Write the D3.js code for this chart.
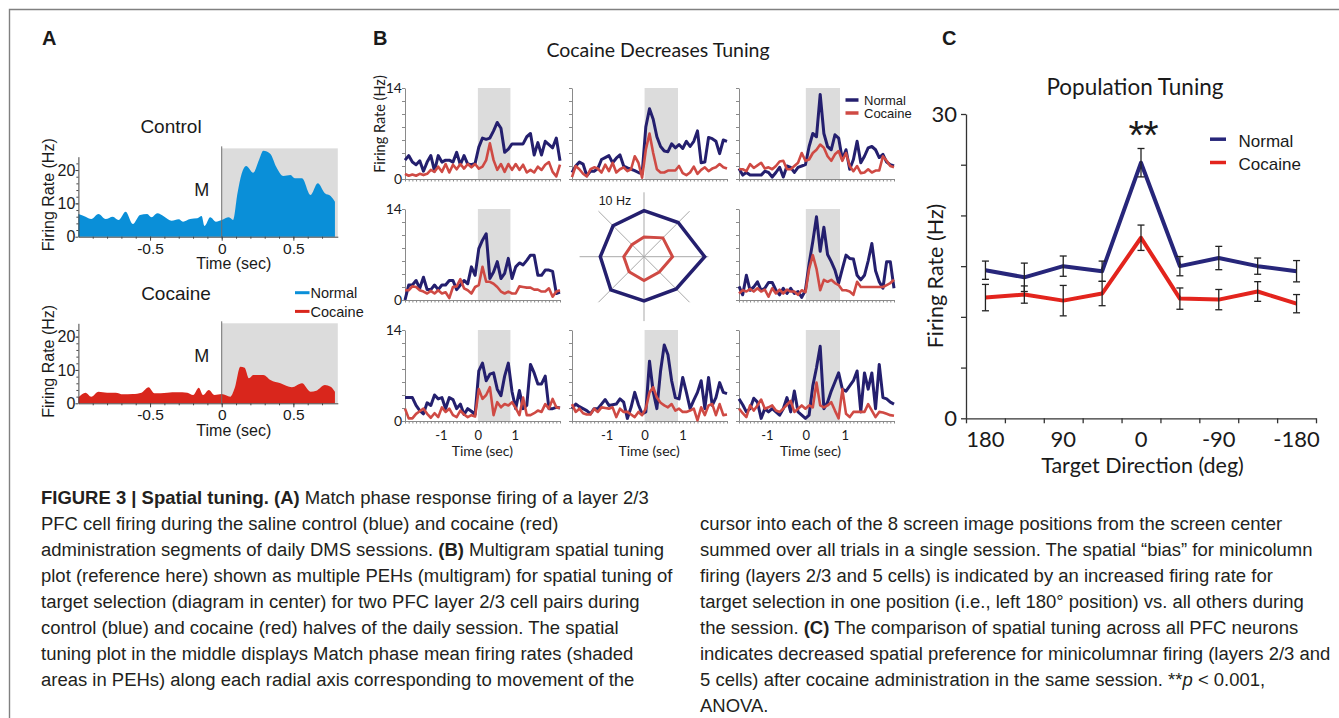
<!DOCTYPE html>
<meta charset="utf-8">
<style>
  body { margin: 0; background: #fff; }
  svg { display: block; }
  text { white-space: pre; }
</style>
<body>
<script src="https://cdn.jsdelivr.net/npm/d3@7"></script>
<script>

// ---------- data ----------

// Panel A: single cell PEH, time (sec) and firing rate (Hz)
var controlTime = [-1.00,-0.95,-0.91,-0.86,-0.81,-0.76,-0.72,-0.67,-0.62,-0.57,-0.52,-0.49,-0.45,-0.40,-0.35,-0.30,-0.27,-0.22,-0.17,-0.14,-0.12,-0.08,-0.04,0,0.05,0.08,0.11,0.14,0.17,0.22,0.26,0.29,0.34,0.38,0.43,0.48,0.51,0.56,0.62,0.67,0.72,0.76,0.79];
var controlHz = [6.8,6.0,5.3,6.8,5.3,6.0,5.0,7.5,3.8,6.5,6.8,5.8,7.0,6.0,4.8,5.2,4.5,5.3,5.5,6.2,3.2,5.8,4.5,5.0,5.8,5.0,13.0,19.0,21.2,19.2,23.0,25.8,24.8,21.0,18.2,18.5,17.5,17.5,12.5,16.0,13.0,12.2,10.5];
var cocaineTime = [-1.00,-0.95,-0.91,-0.86,-0.80,-0.74,-0.69,-0.62,-0.56,-0.51,-0.47,-0.38,-0.31,-0.24,-0.20,-0.16,-0.13,-0.09,-0.05,0,0.06,0.09,0.13,0.16,0.19,0.22,0.29,0.34,0.41,0.49,0.56,0.62,0.66,0.72,0.76,0.79];
var cocaineHz = [1.8,3.2,2.0,3.5,3.2,3.2,2.7,2.8,3.2,4.8,3.0,3.2,3.3,3.2,2.5,4.7,2.5,4.0,2.5,2.8,2.0,4.5,11.0,10.7,7.5,8.5,8.5,7.0,6.0,4.8,6.0,3.5,3.8,5.5,5.0,3.5];

// Panel B: eight PEHs (43 bins each), Hz
var pehNormal_r1c1 = [2.9,3.6,2.6,2.2,2.8,1.2,2.6,3.6,1.2,3.6,2.6,2.9,2.9,2.6,4.1,2.2,3.6,2.3,2.2,2.4,4.9,6.3,6.1,6.3,7.4,8.7,7.8,4.1,4.6,5.4,5.4,5.4,5.4,6.5,7.0,3.7,5.6,3.7,5.8,5.3,4.8,6.3,2.8];
var pehCocaine_r1c1 = [0.8,0.5,0.7,0.5,0.8,0.6,0.8,1.4,1.1,1.9,1.1,2.3,1.0,2.2,1.5,2.3,1.6,2.3,1.8,2.3,1.6,1.9,2.9,5.5,2.9,1.4,2.3,1.1,2.3,1.4,2.3,1.4,2.2,1.0,1.4,1.0,1.9,1.4,2.2,2.6,1.1,0.4,2.2];
var pehNormal_r1c2 = [1.0,2.0,2.6,2.3,0.5,1.2,1.2,1.6,3.0,3.3,3.6,2.5,3.2,3.7,2.0,1.7,1.5,1.3,1.0,0.8,8.0,10.8,9.2,6.5,5.0,4.3,4.2,5.4,4.8,5.3,4.7,5.8,5.0,5.8,7.4,2.5,2.6,6.4,6.2,5.8,3.9,6.0,5.8];
var pehCocaine_r1c2 = [0.3,2.0,1.5,0.8,0.4,1.5,1.8,1.6,1.0,2.2,1.2,2.5,1.0,1.5,1.8,1.2,1.5,3.5,2.5,0.2,4.5,7.0,4.0,1.5,1.0,1.0,1.3,1.3,1.3,2.0,0.9,0.6,1.0,1.9,0.8,1.4,1.8,1.2,1.6,1.8,2.3,1.8,1.6];
var pehNormal_r1c3 = [1.6,0.6,1.0,0.6,0.6,0.6,0.6,1.2,1.0,0.3,1.0,1.8,0.3,2.0,1.8,1.0,1.8,2.0,2.2,5.0,7.0,6.5,13.0,7.0,5.0,4.5,6.8,6.3,3.0,4.5,1.5,3.0,5.8,2.5,3.5,4.8,5.0,4.5,3.3,3.8,2.6,2.2,2.0];
var pehCocaine_r1c3 = [1.5,1.5,1.2,2.3,1.7,2.1,2.5,1.6,1.8,1.5,2.0,2.7,2.8,1.5,1.5,2.0,2.5,4.0,2.8,3.0,4.0,4.5,5.3,4.8,3.5,2.8,3.8,4.3,2.8,4.0,2.0,1.2,2.0,0.9,1.0,1.5,1.0,1.3,1.3,3.5,2.8,2.0,1.8];
var pehNormal_r2c1 = [0.0,2.3,2.3,3.0,1.8,3.5,1.6,1.6,2.3,1.6,2.3,2.3,3.0,3.0,1.6,2.3,3.0,2.5,5.1,3.8,7.9,9.2,10.2,3.3,4.3,5.9,3.3,4.1,6.4,3.3,5.1,5.7,5.4,6.1,6.9,6.9,3.8,3.8,4.6,4.6,4.4,1.0,1.2];
var pehCocaine_r2c1 = [1.5,1.5,2.1,2.0,1.5,1.3,1.0,1.4,1.0,1.5,1.0,1.2,0.3,2.0,2.1,3.2,1.8,1.5,1.0,2.0,2.3,5.1,2.8,2.8,2.5,2.0,1.3,1.0,1.3,1.0,1.0,2.1,2.0,1.9,1.9,1.6,1.6,1.3,1.3,1.8,0.5,1.3,1.5];
var pehNormal_r2c3 = [2.1,0.8,3.8,1.5,2.0,2.8,1.5,1.8,2.7,2.7,1.5,0.8,1.8,1.0,1.8,1.0,1.3,0.4,1.5,5.6,9.0,12.8,7.5,11.2,7.0,5.9,4.6,2.6,4.8,6.9,6.4,6.3,3.8,3.1,3.8,6.0,8.7,4.5,2.8,1.8,5.9,5.9,1.8];
var pehCocaine_r2c3 = [1.0,1.5,1.3,1.7,1.3,1.8,1.3,1.6,0.5,1.8,1.0,1.6,1.0,1.6,1.3,1.3,0.8,1.5,1.2,4.8,6.9,4.8,1.5,3.1,2.8,3.1,2.6,2.3,1.5,1.5,1.3,0.8,2.8,2.0,2.0,2.0,2.0,2.0,2.0,2.0,2.3,2.6,3.1];
var pehNormal_r3c1 = [3.6,3.6,3.6,2.4,1.6,1.1,2.8,2.4,4.0,3.4,3.6,1.9,3.6,3.3,1.9,2.6,1.0,1.9,1.5,1.0,7.7,8.9,6.2,7.2,7.4,4.9,3.9,6.9,8.9,4.5,1.9,4.7,1.9,2.4,8.7,7.4,5.7,5.7,6.9,1.9,1.9,2.1,2.0];
var pehCocaine_r3c1 = [1.9,0.4,0.4,1.1,1.5,1.9,1.1,0.5,1.2,0.6,2.1,1.4,1.9,0.9,0.6,1.6,1.0,0.6,0.9,0.7,4.9,3.4,4.0,5.2,0.9,2.9,2.1,2.6,2.4,2.9,2.0,0.9,3.6,0.9,0.9,1.2,1.6,1.4,2.6,1.9,3.4,2.1,2.0];
var pehNormal_r3c2 = [1.9,2.6,2.2,1.9,1.6,1.1,1.9,1.9,2.6,3.3,2.4,2.5,2.6,3.4,2.9,0.4,2.1,4.4,2.5,1.1,1.4,9.2,4.5,1.9,7.7,11.7,10.2,6.2,3.6,3.4,6.7,4.4,1.9,3.2,4.4,6.2,1.9,6.7,2.4,3.6,5.9,4.4,4.2];
var pehCocaine_r3c2 = [2.6,1.4,1.9,1.2,1.0,1.0,1.9,1.4,2.1,2.0,1.9,2.1,0.6,1.9,1.4,1.4,1.0,0.6,1.4,0.9,1.9,4.4,5.2,3.6,2.8,2.4,2.1,2.6,1.6,1.9,1.4,1.4,1.6,1.9,0.1,2.1,0.9,2.4,2.6,0.9,2.6,0.9,1.0];
var pehNormal_r3c3 = [3.4,2.5,1.4,1.9,3.5,2.9,0.4,1.9,1.4,1.9,1.4,0.9,1.9,3.6,1.4,4.6,1.4,0.9,0.4,0.9,5.4,8.2,11.5,1.9,2.9,4.6,6.0,7.4,4.9,4.6,5.4,6.2,7.7,1.4,7.4,4.9,7.4,1.9,8.7,3.6,3.4,2.9,2.6];
var pehCocaine_r3c3 = [1.9,1.2,0.6,2.4,1.6,2.4,3.3,1.9,2.1,2.4,1.6,1.4,1.9,2.5,3.1,1.4,1.9,2.4,1.9,2.4,2.1,5.9,2.4,2.1,2.4,2.9,1.6,0.4,4.9,1.1,0.6,1.4,1.4,1.4,1.4,2.6,1.6,0.6,1.4,1.3,1.1,0.9,0.8];

// Panel B centre: tuning diagram, direction (deg, counter-clockwise from right) and Hz
var polarAngles = [0, 45, 90, 135, 180, 225, 270, 315];
var polarNormal = [13.2, 10.5, 10.0, 9.5, 9.5, 10.2, 9.6, 9.9];
var polarCocaine = [6.2, 5.8, 4.3, 3.7, 4.4, 4.6, 5.2, 4.7];

// Panel C: population tuning
var directions = ['180', '135', '90', '45', '0', '-45', '-90', '-135', '-180'];
var directionLabels = ['180', '90', '0', '-90', '-180'];
var popNormal = [14.6, 13.9, 15.0, 14.5, 25.2, 15.0, 15.8, 15.0, 14.5];
var popNormalErr = [0.9, 1.4, 1.0, 1.0, 1.4, 0.95, 1.15, 0.8, 1.05];
var popCocaine = [11.9, 12.2, 11.6, 12.3, 17.8, 11.8, 11.7, 12.5, 11.3];
var popCocaineErr = [1.3, 0.85, 1.5, 1.2, 1.25, 1.05, 1.0, 0.97, 0.9];

// ---------- drawing ----------

var ARIAL = '"Liberation Sans", Arial, sans-serif';
var LATO = 'Lato, "Open Sans", sans-serif';
var NAVY_B = '#241f6e', RED_B = '#cf4a44';
var NAVY_C = '#27267a', RED_C = '#e3241d';

var svg = d3.select('body').append('svg').attr('width', 1339).attr('height', 718);

// figure box rules
svg.append('path').attr('d', 'M9.5,718V9.5H1339')
  .attr('fill', 'none').attr('stroke', '#808080').attr('stroke-width', 1.4);

function txt(g, x, y, s, size, o) {
  o = o || {};
  var t = g.append('text').attr('x', x).attr('y', y).text(s)
    .style('font-size', size + 'px')
    .style('font-family', o.family || ARIAL)
    .attr('text-anchor', o.anchor || 'start')
    .attr('fill', o.fill || '#1a1a1a');
  if (o.weight) t.style('font-weight', o.weight);
  if (o.rotate) t.attr('transform', 'rotate(-90,' + x + ',' + y + ')');
  return t;
}

function styleAxis(sel, family, size, stroke, width) {
  sel.attr('font-family', null).attr('font-size', null);
  sel.selectAll('text').style('font-family', family).style('font-size', size + 'px').attr('fill', '#1a1a1a');
  sel.selectAll('path,line').attr('stroke', stroke).attr('stroke-width', width);
}

// panel letters
txt(svg, 42, 45, 'A', 20, { weight: 'bold' });
txt(svg, 373, 45, 'B', 20, { weight: 'bold' });
txt(svg, 942, 45, 'C', 20, { weight: 'bold' });

// ===== Panel A =====
var xA = d3.scaleLinear().domain([-1, 0.81]).range([78.4, 337.8]);
var aCharts = [
  { time: controlTime, hz: controlHz, color: '#0a8fd8', y0: 236.7, boxTop: 26.5, title: 'Control', tx: 171 },
  { time: cocaineTime, hz: cocaineHz, color: '#d9261c', y0: 403.3, boxTop: 24, title: 'Cocaine', tx: 176 }
];

aCharts.forEach(function (c) {
  var g = svg.append('g');
  var y = d3.scaleLinear().domain([0, 24]).range([c.y0, c.y0 - 80]);

  g.append('rect')
    .attr('x', xA(0)).attr('width', xA(0.81) - xA(0))
    .attr('y', y(c.boxTop)).attr('height', y(0) - y(c.boxTop))
    .attr('fill', '#dcdcdc');

  var pts = c.time.map(function (t, i) { return [t, c.hz[i]]; });
  var area = d3.area()
    .x(function (d) { return xA(d[0]); })
    .y0(y(0))
    .y1(function (d) { return y(d[1]); })
    .curve(d3.curveMonotoneX);
  g.append('path').datum(pts).attr('d', area).attr('fill', c.color);

  g.append('line')
    .attr('x1', xA(0)).attr('x2', xA(0))
    .attr('y1', y(c.boxTop) - 2).attr('y2', y(0))
    .attr('stroke', '#6f6f6f').attr('stroke-width', 1);

  // axes
  var xm = g.append('g').attr('transform', 'translate(0,' + y(0) + ')')
    .call(d3.axisBottom(xA).tickValues(d3.range(-0.9, 0.8, 0.1)).tickSize(2).tickSizeOuter(0).tickFormat(''));
  xm.select('.domain').remove();
  styleAxis(xm, ARIAL, 15.5, '#444', 1);
  var xa = g.append('g').attr('transform', 'translate(0,' + y(0) + ')')
    .call(d3.axisBottom(xA).tickValues([-0.5, 0, 0.5]).tickSize(4).tickSizeOuter(0).tickPadding(2)
      .tickFormat(function (d) { return String(d); }));
  styleAxis(xa, ARIAL, 15.5, '#444', 1);

  var ym = g.append('g').attr('transform', 'translate(' + xA(-1) + ',0)')
    .call(d3.axisLeft(y).tickValues(d3.range(2, 24, 2)).tickSize(2).tickFormat(''));
  ym.select('.domain').remove();
  styleAxis(ym, ARIAL, 16, '#444', 1);
  var ya = g.append('g').attr('transform', 'translate(' + xA(-1) + ',0)')
    .call(d3.axisLeft(y).tickValues([0, 10, 20]).tickSize(3).tickSizeOuter(0).tickPadding(0));
  styleAxis(ya, ARIAL, 16, '#444', 1);

  txt(g, c.tx, c.y0 - 103.5, c.title, 19, { anchor: 'middle' });
  txt(g, 201.7, c.y0 - 41, 'M', 18, { anchor: 'middle' });
  txt(g, 233.8, c.y0 + 32.7, 'Time (sec)', 16, { anchor: 'middle' });
  txt(g, 54, c.y0 - 42, 'Firing Rate (Hz)', 16, { anchor: 'middle', rotate: true });
});

// legend of panel A
var legA = svg.append('g');
[['Normal', '#0a8fd8', 298], ['Cocaine', '#d9261c', 316.7]].forEach(function (d) {
  legA.append('line').attr('x1', 295).attr('x2', 309.5).attr('y1', d[2] - 5.3).attr('y2', d[2] - 5.3)
    .attr('stroke', d[1]).attr('stroke-width', 3);
  txt(legA, 310.5, d[2], d[0], 14.5);
});

// ===== Panel B =====
var bColX = [405, 572, 739];
var bRowY = [179, 300, 421];
var bW = 155, bH = 91;
var bTimeDomain = [[-1.97, 2.22], [-1.91, 2.17], [-1.72, 2.27]];
var stimWindow = [0, 0.88];

var pehPanels = [
  { row: 0, col: 0, normal: pehNormal_r1c1, cocaine: pehCocaine_r1c1 },
  { row: 0, col: 1, normal: pehNormal_r1c2, cocaine: pehCocaine_r1c2 },
  { row: 0, col: 2, normal: pehNormal_r1c3, cocaine: pehCocaine_r1c3 },
  { row: 1, col: 0, normal: pehNormal_r2c1, cocaine: pehCocaine_r2c1 },
  { row: 1, col: 2, normal: pehNormal_r2c3, cocaine: pehCocaine_r2c3 },
  { row: 2, col: 0, normal: pehNormal_r3c1, cocaine: pehCocaine_r3c1 },
  { row: 2, col: 1, normal: pehNormal_r3c2, cocaine: pehCocaine_r3c2 },
  { row: 2, col: 2, normal: pehNormal_r3c3, cocaine: pehCocaine_r3c3 }
];

pehPanels.forEach(function (p) {
  var x0 = bColX[p.col], y0 = bRowY[p.row];
  var g = svg.append('g');
  var t = d3.scaleLinear().domain(bTimeDomain[p.col]).range([x0, x0 + bW]);
  var xi = d3.scaleLinear().domain([0, p.normal.length - 1]).range([x0, x0 + bW]);
  var y = d3.scaleLinear().domain([0, 14]).range([y0, y0 - bH]);

  g.append('rect')
    .attr('x', t(stimWindow[0])).attr('width', t(stimWindow[1]) - t(stimWindow[0]))
    .attr('y', y(14)).attr('height', y(0) - y(14))
    .attr('fill', '#dcdcdc');

  var ya = g.append('g').attr('transform', 'translate(' + x0 + ',0)')
    .call(d3.axisLeft(y).tickValues(d3.range(0, 15, 2)).tickSize(3).tickSizeOuter(0).tickPadding(0)
      .tickFormat(function (d) { return p.col === 0 && (d === 0 || d === 14) ? d : ''; }));
  styleAxis(ya, LATO, 14, '#8a8a8a', 1);

  var xa = g.append('g').attr('transform', 'translate(0,' + y0 + ')')
    .call(d3.axisBottom(xi).tickValues(d3.range(p.normal.length)).tickSize(2.5).tickSizeOuter(0).tickFormat(''));
  styleAxis(xa, LATO, 14, '#8a8a8a', 1);

  if (p.row === 2) {
    var xl = g.append('g').attr('transform', 'translate(0,' + y0 + ')')
      .call(d3.axisBottom(t).tickValues([-1, 0, 1]).tickSize(0).tickPadding(9.5)
        .tickFormat(function (d) { return String(d); }));
    xl.select('.domain').remove();
    styleAxis(xl, LATO, 13, '#8a8a8a', 1);
    txt(g, t(0.12), y0 + 35, 'Time (sec)', 14, { anchor: 'middle', family: LATO });
  }

  var line = d3.line()
    .x(function (d, i) { return xi(i); })
    .y(function (d) { return y(d); })
    .curve(d3.curveLinear);
  g.append('path').datum(p.normal).attr('d', line).attr('fill', 'none')
    .attr('stroke', NAVY_B).attr('stroke-width', 3).attr('stroke-linejoin', 'round');
  g.append('path').datum(p.cocaine).attr('d', line).attr('fill', 'none')
    .attr('stroke', RED_B).attr('stroke-width', 2.6).attr('stroke-linejoin', 'round');
});

txt(svg, 658, 57, 'Cocaine Decreases Tuning', 19.5, { anchor: 'middle', family: LATO });
txt(svg, 385, 124, 'Firing Rate (Hz)', 14.5, { anchor: 'middle', family: LATO, rotate: true });

// legend of panel B
var legB = svg.append('g');
[['Normal', NAVY_B, 105], ['Cocaine', RED_B, 118]].forEach(function (d) {
  legB.append('line').attr('x1', 845.5).attr('x2', 858.5).attr('y1', d[2] - 5).attr('y2', d[2] - 5)
    .attr('stroke', d[1]).attr('stroke-width', 3.5);
  txt(legB, 864, d[2], d[0], 13);
});

// tuning diagram
var polar = svg.append('g').attr('transform', 'translate(644,256.7)');
var rScale = d3.scaleLinear().domain([0, 10]).range([0, 46]);
polarAngles.forEach(function (a) {
  var rad = a * Math.PI / 180;
  polar.append('line')
    .attr('x1', 0).attr('y1', 0)
    .attr('x2', rScale(14) * Math.cos(rad)).attr('y2', -rScale(14) * Math.sin(rad))
    .attr('stroke', '#a9a9a9').attr('stroke-width', 1);
});
var radial = d3.lineRadial()
  .angle(function (d) { return (90 - d[0]) * Math.PI / 180; })
  .radius(function (d) { return rScale(d[1]); })
  .curve(d3.curveLinearClosed);
polar.append('path').datum(polarAngles.map(function (a, i) { return [a, polarNormal[i]]; }))
  .attr('d', radial).attr('fill', 'none').attr('stroke', NAVY_B).attr('stroke-width', 3.5);
polar.append('path').datum(polarAngles.map(function (a, i) { return [a, polarCocaine[i]]; }))
  .attr('d', radial).attr('fill', 'none').attr('stroke', RED_B).attr('stroke-width', 3);
txt(svg, 615, 205, '10 Hz', 12.5, { anchor: 'middle' });

// ===== Panel C =====
var gC = svg.append('g');
var xC = d3.scaleBand().domain(directions).range([966, 1316]).padding(0);
var xEdge = d3.scaleLinear().domain([0, directions.length]).range([966, 1316]);
var yC = d3.scaleLinear().domain([0, 30]).range([418.3, 114]);
var cx = function (d) { return xC(d) + xC.bandwidth() / 2; };

var yAxC = gC.append('g').attr('transform', 'translate(966,0)')
  .call(d3.axisLeft(yC).tickValues([0, 5, 10, 15, 20, 25, 30]).tickSize(5).tickSizeOuter(0).tickPadding(4)
    .tickFormat(function (d) { return d === 0 || d === 30 ? d : ''; }));
styleAxis(yAxC, LATO, 22, '#333', 1.3);

var xAxC = gC.append('g').attr('transform', 'translate(0,418.3)')
  .call(d3.axisBottom(xEdge).tickValues(d3.range(directions.length + 1)).tickSize(5).tickSizeOuter(0).tickFormat(''));
styleAxis(xAxC, LATO, 22, '#333', 1.3);
var xLabC = gC.append('g').attr('transform', 'translate(0,418.3)')
  .call(d3.axisBottom(xC).tickValues(directionLabels).tickSize(0).tickPadding(13));
xLabC.select('.domain').remove();
styleAxis(xLabC, LATO, 22, '#333', 1.3);

var series = [
  { values: popNormal, err: popNormalErr, color: NAVY_C },
  { values: popCocaine, err: popCocaineErr, color: RED_C }
];
series.forEach(function (s) {
  var pts = directions.map(function (d, i) { return { d: d, v: s.values[i], e: s.err[i] }; });
  gC.append('path').datum(pts)
    .attr('d', d3.line().x(function (p) { return cx(p.d); }).y(function (p) { return yC(p.v); }))
    .attr('fill', 'none').attr('stroke', s.color).attr('stroke-width', 4).attr('stroke-linejoin', 'round');
  var eb = gC.append('g').selectAll('g').data(pts).enter().append('g');
  eb.append('line')
    .attr('x1', function (p) { return cx(p.d); }).attr('x2', function (p) { return cx(p.d); })
    .attr('y1', function (p) { return yC(p.v + p.e); }).attr('y2', function (p) { return yC(p.v - p.e); });
  eb.append('line')
    .attr('x1', function (p) { return cx(p.d) - 3.5; }).attr('x2', function (p) { return cx(p.d) + 3.5; })
    .attr('y1', function (p) { return yC(p.v + p.e); }).attr('y2', function (p) { return yC(p.v + p.e); });
  eb.append('line')
    .attr('x1', function (p) { return cx(p.d) - 3.5; }).attr('x2', function (p) { return cx(p.d) + 3.5; })
    .attr('y1', function (p) { return yC(p.v - p.e); }).attr('y2', function (p) { return yC(p.v - p.e); });
  eb.selectAll('line').attr('stroke', '#222').attr('stroke-width', 1.3);
});

txt(gC, 1135, 95, 'Population Tuning', 22.5, { anchor: 'middle', family: LATO });
txt(gC, 1142.5, 473, 'Target Direction (deg)', 21.5, { anchor: 'middle', family: LATO });
txt(gC, 943, 276, 'Firing Rate (Hz)', 21.5, { anchor: 'middle', family: LATO, rotate: true });
txt(gC, cx('0') + 2, 149, '**', 40, { anchor: 'middle' }).style('letter-spacing', '-1px');

[['Normal', NAVY_C, 146.7], ['Cocaine', RED_C, 170]].forEach(function (d) {
  gC.append('line').attr('x1', 1210).attr('x2', 1226).attr('y1', d[2] - 7.5).attr('y2', d[2] - 7.5)
    .attr('stroke', d[1]).attr('stroke-width', 3.5);
  txt(gC, 1238.5, d[2], d[0], 17);
});

// ===== Caption =====
var captionLeft = [
  [['FIGURE 3 | Spatial tuning.', 1], [' ', 0], ['(A)', 1], [' Match phase response firing of a layer 2/3', 0]],
  [['PFC cell firing during the saline control (blue) and cocaine (red)', 0]],
  [['administration segments of daily DMS sessions. ', 0], ['(B)', 1], [' Multigram spatial tuning', 0]],
  [['plot (reference here) shown as multiple PEHs (multigram) for spatial tuning of', 0]],
  [['target selection (diagram in center) for two PFC layer 2/3 cell pairs during', 0]],
  [['control (blue) and cocaine (red) halves of the daily session. The spatial', 0]],
  [['tuning plot in the middle displays Match phase mean firing rates (shaded', 0]],
  [['areas in PEHs) along each radial axis corresponding to movement of the', 0]]
];
var captionRight = [
  [['cursor into each of the 8 screen image positions from the screen center', 0]],
  [['summed over all trials in a single session. The spatial \u201cbias\u201d for minicolumn', 0]],
  [['firing (layers 2/3 and 5 cells) is indicated by an increased firing rate for', 0]],
  [['target selection in one position (i.e., left 180\u00b0 position) vs. all others during', 0]],
  [['the session. ', 0], ['(C)', 1], [' The comparison of spatial tuning across all PFC neurons', 0]],
  [['indicates decreased spatial preference for minicolumnar firing (layers 2/3 and', 0]],
  [['5 cells) after cocaine administration in the same session. **', 0], ['p', 2], [' < 0.001,', 0]],
  [['ANOVA.', 0]]
];

function drawCaption(lines, x, y0, size) {
  var g = svg.append('g').style('font-family', ARIAL).style('font-size', size + 'px').attr('fill', '#231f20');
  lines.forEach(function (segs, i) {
    var t = g.append('text').attr('x', x).attr('y', y0 + i * 26);
    segs.forEach(function (s) {
      t.append('tspan').text(s[0])
        .style('font-weight', s[1] === 1 ? 'bold' : null)
        .style('font-style', s[1] === 2 ? 'italic' : null);
    });
  });
  return g;
}

var probe = drawCaption([captionLeft[0]], 41, -100, 15);
var probeW = probe.select('text').node().getComputedTextLength();
probe.remove();
var capSize = 15 * 608 / probeW;

drawCaption(captionLeft, 41, 504, capSize);
drawCaption(captionRight, 700, 530, capSize);

</script>
</body>
